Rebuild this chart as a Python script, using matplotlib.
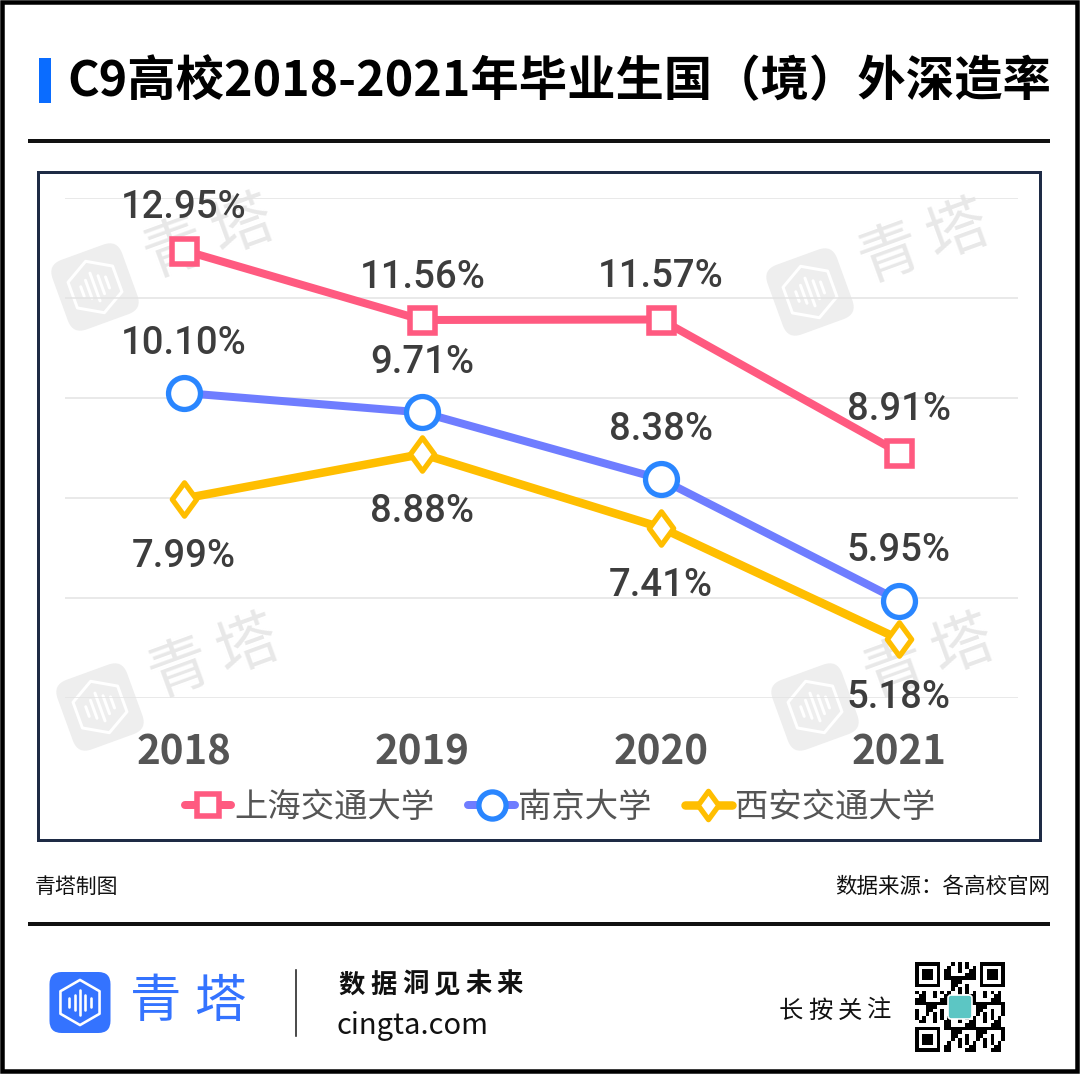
import matplotlib
matplotlib.use('Agg')
import matplotlib.pyplot as plt
from matplotlib.patches import Rectangle, FancyBboxPatch, Polygon
from matplotlib.path import Path
import matplotlib.transforms as mtransforms
import numpy as np

plt.rcParams['font.family'] = ['Noto Sans CJK SC', 'DejaVu Sans']

# ---------------- data ----------------
years = ['2018', '2019', '2020', '2021']
sjtu = [12.95, 11.56, 11.57, 8.91]
nju = [10.10, 9.71, 8.38, 5.95]
xjtu = [7.99, 8.88, 7.41, 5.18]
series_names = ['上海交通大学', '南京大学', '西安交通大学']
title = 'C9高校2018-2021年毕业生国（境）外深造率'
credit = '青塔制图'
source = '数据来源：各高校官网'
brand = '青塔'
slogan = '数据洞见未来'
site = 'cingta.com'
follow = '长按关注'

# ---------------- styles ----------------
W, H = 1080, 1074
PT = 0.72  # points per pixel at dpi 100
PINK = '#FF5A80'
BLUE_LINE = '#6F7DFF'
BLUE_MK = '#2A86FF'
YELLOW = '#FFBE00'
LABEL_C = '#3d3d3d'
TICK_C = '#555555'
NUM_FONT = ['Roboto', 'Noto Sans CJK SC', 'DejaVu Sans']

fig = plt.figure(figsize=(W / 100, H / 100), dpi=100)
fig.patch.set_facecolor('white')

bg = fig.add_axes([0, 0, 1, 1])
bg.axis('off')

# ---------------- main plot ----------------
ax = fig.add_axes([65 / W, 1 - 698 / H, 953 / W, 500 / H])
ax.set_facecolor('none')
x = np.arange(len(years))

diamond = Path([(0, 1), (0.73, 0), (0, -1), (-0.73, 0), (0, 1)],
               [Path.MOVETO, Path.LINETO, Path.LINETO, Path.LINETO, Path.CLOSEPOLY])

l1, = ax.plot(x, sjtu, color=PINK, lw=8 * PT, marker='s', ms=18, mfc='white',
              mec=PINK, mew=4, solid_capstyle='round', solid_joinstyle='round',
              zorder=4, clip_on=False)
l2, = ax.plot(x, nju, color=BLUE_LINE, lw=8 * PT, marker='o', ms=23, mfc='white',
              mec=BLUE_MK, mew=3.8, solid_capstyle='round', solid_joinstyle='round',
              zorder=3, clip_on=False)
l3, = ax.plot(x, xjtu, color=YELLOW, lw=8.5 * PT, marker=diamond, ms=24, mfc='white',
              mec=YELLOW, mew=3.8, solid_capstyle='round', solid_joinstyle='round',
              zorder=3, clip_on=False)

def labels(vals, off_px):
    for i, v in enumerate(vals):
        ax.annotate(f'{v:.2f}%', (i, v), xytext=(0, off_px * PT),
                    textcoords='offset points', ha='center', va='center',
                    fontsize=27.5, color=LABEL_C, weight='medium', family=NUM_FONT,
                    zorder=6)

labels(sjtu, 43)
labels(nju, 50)
labels(xjtu, -58)

ax.set_xlim(-0.5, 3.5)
ax.set_ylim(4, 14)
ax.set_xticks(x)
ax.set_xticklabels(years, fontsize=29, weight='bold', color=TICK_C)
ax.set_yticks(np.arange(4, 15, 2))
ax.set_yticklabels([])
ax.tick_params(axis='x', length=0, pad=25)
ax.tick_params(axis='y', length=0)
ax.grid(axis='y', color='#e3e3e3', lw=1.5 * PT)
ax.set_axisbelow(True)
for s in ax.spines.values():
    s.set_visible(False)

leg = ax.legend([l1, l2, l3], series_names, loc='center',
                bbox_to_anchor=(560 / W, 1 - 807 / H), bbox_transform=fig.transFigure,
                ncol=3, frameon=False, fontsize=24, handlelength=1.4,
                handletextpad=0.1, columnspacing=1.0, labelcolor=TICK_C,
                markerscale=0.85)

# ---------------- decorations (pixel coords, y down) ----------------
bg.set_xlim(0, W)
bg.set_ylim(H, 0)

bg.add_patch(Rectangle((2, 2), W - 5, H - 5, fill=False, ec='black', lw=4.5 * PT))
bg.add_patch(Rectangle((39, 58), 12, 45, fc='#0A6CFF', ec='none'))
bg.text(67, 82, title, fontsize=34.8, weight='bold', ha='left', va='center', color='#000')
bg.plot([28, 1050], [141, 141], color='#111111', lw=4 * PT, solid_capstyle='butt')
bg.add_patch(Rectangle((38, 172), 1002, 668, fill=False, ec='#1E2B45', lw=3 * PT))

def logo_icon(cx, cy, size, rot, fc, lc, lw_px, rz):
    tr = mtransforms.Affine2D().rotate_deg_around(cx, cy, -rot) + bg.transData
    bg.add_patch(FancyBboxPatch((cx - size / 2, cy - size / 2), size, size,
                                boxstyle=f'round,pad=0,rounding_size={size * 0.2}',
                                fc=fc, ec='none', transform=tr, zorder=rz))
    R = size * 0.37
    ang = np.deg2rad(90 + 60 * np.arange(6))
    verts = np.column_stack([cx + R * np.cos(ang), cy + R * np.sin(ang)])
    bg.add_patch(Polygon(verts, closed=True, fill=False, ec=lc, lw=lw_px * PT,
                         transform=tr, zorder=rz + 0.1, joinstyle='round'))
    for dx, hh in zip([-0.18, -0.09, 0, 0.09, 0.18], [0.07, 0.13, 0.2, 0.13, 0.08]):
        bg.plot([cx + dx * size] * 2, [cy - hh * size, cy + hh * size], color=lc,
                lw=lw_px * PT, solid_capstyle='round', transform=tr, zorder=rz + 0.1)

def watermark(cx, cy):
    logo_icon(cx, cy, 74, 20, '#eeeeee', 'white', 3, 1)
    for k, ch in enumerate(brand):
        bg.text(cx + 80 + 68 * k, cy - 37 - 23 * k, ch, fontsize=44, color='#e8e8e8',
                rotation=20, ha='center', va='center', rotation_mode='anchor', zorder=1)

for cx, cy in [(95, 287), (810, 292), (100, 707), (815, 707)]:
    watermark(cx, cy)

# footer
bg.text(35, 887, credit, fontsize=15, ha='left', va='center', color='#111')
bg.text(1050, 887, source, fontsize=15.5, ha='right', va='center', color='#111')
bg.plot([28, 1050], [924, 924], color='#111111', lw=4 * PT, solid_capstyle='butt')

logo_icon(80, 1002.5, 61, 0, '#3473FF', 'white', 2.6, 2)
for k, ch in enumerate(brand):
    bg.text(156 + 64 * k, 1002, ch, fontsize=37, color='#3473FF', ha='center', va='center')
bg.plot([296, 296], [970, 1036], color='#222222', lw=1.6 * PT)
for k, ch in enumerate(slogan):
    bg.text(352 + 31.6 * k, 985, ch, fontsize=19, weight='bold', ha='center',
            va='center', color='#111')
bg.text(337, 1026, site, fontsize=21, ha='left', va='center', color='#111')
for k, ch in enumerate(follow):
    bg.text(791 + 29.3 * k, 1011, ch, fontsize=17.5, ha='center', va='center', color='#111')

# QR-like decoration
n = 25
ii, jj = np.meshgrid(np.arange(n), np.arange(n), indexing='ij')
q = (((ii * ii + 3 * jj + ii * jj) % 7) < 3).astype(float)
def finder(r, c):
    q[max(r - 1, 0):r + 8, max(c - 1, 0):c + 8] = 0
    q[r:r + 7, c:c + 7] = 1
    q[r + 1:r + 6, c + 1:c + 6] = 0
    q[r + 2:r + 5, c + 2:c + 5] = 1
finder(0, 0); finder(0, n - 7); finder(n - 7, 0)
bg.imshow(1 - q, cmap='gray', vmin=0, vmax=1, extent=[915, 1005, 1052, 962],
          interpolation='nearest', aspect='auto', zorder=2)
bg.add_patch(FancyBboxPatch((948, 995), 24, 24, boxstyle='round,pad=0,rounding_size=3',
                            fc='#5CC6C4', ec='white', lw=1.2, zorder=3))
bg.set_xlim(0, W)
bg.set_ylim(H, 0)

fig.savefig('out.png', dpi=100, facecolor='white')
